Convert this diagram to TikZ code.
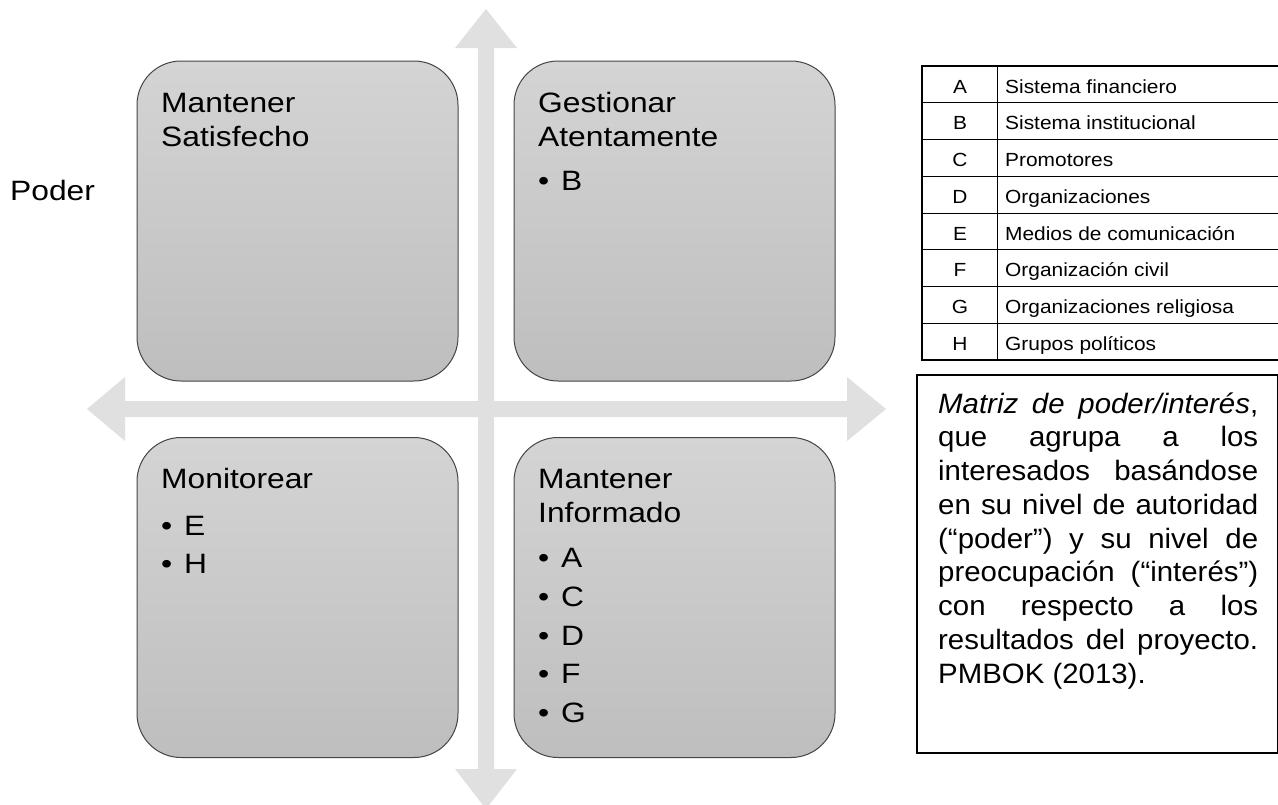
\documentclass[tikz,border=0pt]{standalone}
\usepackage{fontspec}
\setmainfont{Liberation Sans}
\newfontfamily\boxfont[FakeStretch=1.135]{Liberation Sans}
\newfontfamily\notefont[FakeStretch=1.05]{Liberation Sans}
\newfontfamily\tabfont[FakeStretch=1.1]{Liberation Sans}
\definecolor{arrowgray}{HTML}{E0E0E0}
\definecolor{boxtop}{HTML}{D4D4D4}
\definecolor{boxbot}{HTML}{BEBEBE}
\definecolor{boxline}{HTML}{454545}
\tikzset{
  quad/.style={draw=boxline, line width=1pt, rounded corners=44pt,
    top color=boxtop, bottom color=boxbot,
    minimum width=321pt, minimum height=320pt, inner sep=0pt},
  boxtxt/.style={font=\boxfont\fontsize{28}{34}\selectfont, inner sep=0pt, anchor=base west},
  tabtxt/.style={font=\tabfont\fontsize{19}{22}\selectfont, inner sep=0pt},
  notetxt/.style={font=\notefont\fontsize{28}{33.75}\selectfont, inner sep=0pt,
    text width=320pt, align=justify, anchor=north west},
  frame/.style={draw=black, line width=2pt}
}
\begin{document}
\begin{tikzpicture}[x=1pt,y=-1pt]
\useasboundingbox (0,0) rectangle (1278,804);
\clip (0,0) rectangle (1278,804);
\fill[white] (0,0) rectangle (1278,804);
% axes (double arrows)
\fill[arrowgray] (486,9) -- (517,48) -- (494,48) -- (494,769) -- (517,769) -- (486,809)
  -- (455,769) -- (478,769) -- (478,48) -- (455,48) -- cycle;
\fill[arrowgray] (87,409) -- (125,377) -- (125,401) -- (847,401) -- (847,377) -- (886,409)
  -- (847,441) -- (847,417) -- (125,417) -- (125,441) -- cycle;
% quadrants
\node[quad] (tl) at (297.5,221) {};
\node[quad] (tr) at (674.5,221) {};
\node[quad] (bl) at (297.5,597.5) {};
\node[quad] (br) at (674.5,597.5) {};
% label
\node[boxtxt] (poder) at (10,200) {Poder};
% TL
\node[boxtxt] (tla) at (161,112) {Mantener};
\node[boxtxt] (tlb) at (161,146) {Satisfecho};
% TR
\node[boxtxt] (tra) at (538,112) {Gestionar};
\node[boxtxt] (trb) at (538,146) {Atentamente};
\node[boxtxt] (trc) at (538,190) {•};
\node[boxtxt] (trd) at (561,190) {B};
% BL
\node[boxtxt] (bla) at (161,488) {Monitorear};
\node[boxtxt] (blb) at (161,535) {•};
\node[boxtxt] (blc) at (184,535) {E};
\node[boxtxt] (bld) at (161,573.5) {•};
\node[boxtxt] (ble) at (184,573.5) {H};
% BR
\node[boxtxt] (bra) at (538,488) {Mantener};
\node[boxtxt] (brb) at (538,522) {Informado};
\foreach \k/\yy/\l in {1/567/A,2/606/C,3/645/D,4/683.5/F,5/722/G}{
  \node[boxtxt] (brdot\k) at (538,\yy) {•};
  \node[boxtxt] (brl\k) at (561,\yy) {\l};
}
% table
\foreach \i/\l/\t in {0/A/Sistema financiero,1/B/Sistema institucional,2/C/Promotores,
  3/D/Organizaciones,4/E/Medios de comunicación,5/F/Organización civil,
  6/G/Organizaciones religiosa,7/H/Grupos políticos}{
  \node[tabtxt, anchor=base] (key\i) at (960,{66+36.75*\i+27}) {\l};
  \node[tabtxt, anchor=base west] (val\i) at (1005,{66+36.75*\i+27}) {\t};
}
\foreach \i in {1,...,7}{
  \draw[black, line width=1pt] (922,{66+36.75*\i}) -- (1280,{66+36.75*\i});
}
\draw[frame] (922,66) rectangle (1281,360);
\draw[black, line width=1.5pt] (997.5,66) -- (997.5,360);
% note box
\draw[frame] (917,375) rectangle (1278,753);
\node[notetxt] (note) at (938,386) {\noindent\rule{0pt}{27pt}\textit{Matriz de poder/interés},\linebreak
que agrupa a los\linebreak
interesados basándose\linebreak
en su nivel de autoridad\linebreak
(“poder”) y su nivel de\linebreak
preocupación (“interés”)\linebreak
con respecto a los\linebreak
resultados del proyecto.\linebreak
PMBOK (2013).};
\end{tikzpicture}
\end{document}
